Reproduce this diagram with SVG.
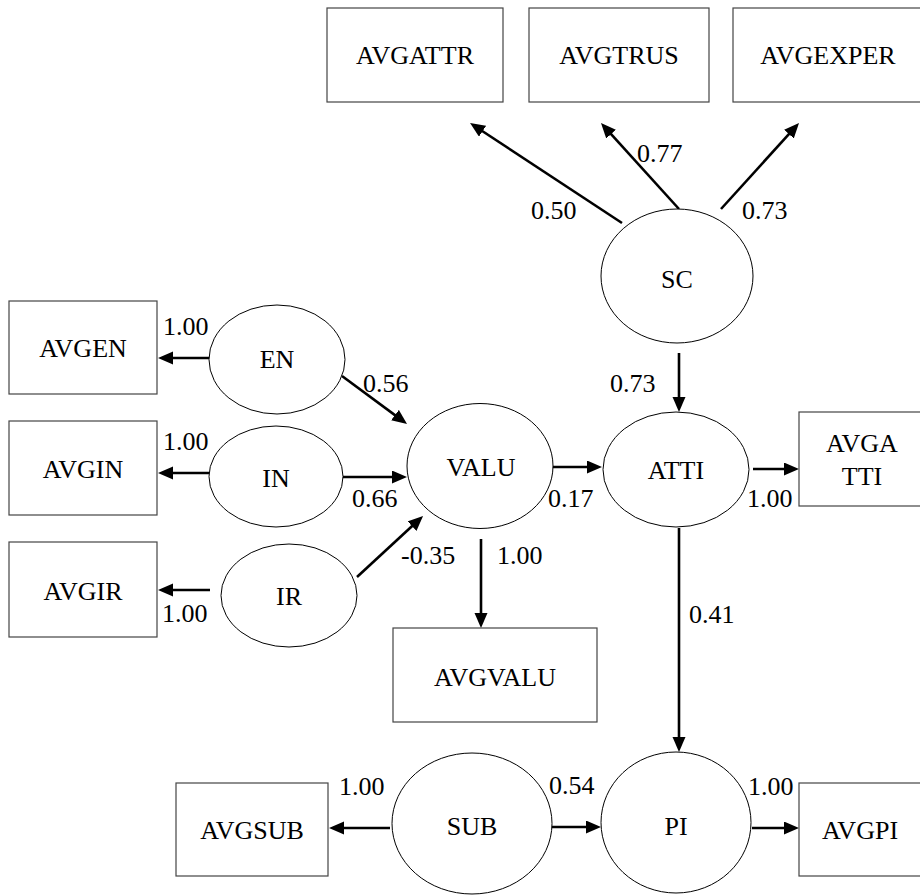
<svg xmlns="http://www.w3.org/2000/svg" width="920" height="895" viewBox="0 0 920 895" font-family="Liberation Serif, DejaVu Serif, serif" font-size="26">
<style>
.n text{text-anchor:middle}
.n rect{fill:#fff;stroke:#444;stroke-width:1.2}
.n ellipse{fill:#fff;stroke:#000;stroke-width:1}
#edges line{stroke:#000;stroke-width:2.6;marker-end:url(#ah)}
</style>
<defs>
<marker id="ah" markerUnits="userSpaceOnUse" markerWidth="16" markerHeight="14" refX="5" refY="6.5" orient="auto" viewBox="0 0 16 14">
<path d="M0,0 L15,6.5 L0,13 z" fill="#000"/>
</marker>
</defs>
<rect width="920" height="895" fill="#fff"/>
<g id="edges">
<line x1="622" y1="223" x2="478.4" y2="128.5"/>
<line x1="679" y1="209" x2="607.7" y2="130.4"/>
<line x1="721" y1="209" x2="792.3" y2="130.4"/>
<line x1="679" y1="353" x2="679" y2="402"/>
<line x1="753" y1="469" x2="789" y2="469"/>
<line x1="552" y1="467" x2="592" y2="467"/>
<line x1="679" y1="528" x2="679" y2="742"/>
<line x1="210" y1="358" x2="168" y2="358"/>
<line x1="209" y1="473" x2="168" y2="473"/>
<line x1="210" y1="590" x2="168" y2="590"/>
<line x1="342" y1="376" x2="399" y2="418.1"/>
<line x1="343" y1="477" x2="397" y2="477"/>
<line x1="357" y1="577" x2="415.7" y2="522.8"/>
<line x1="481" y1="539" x2="481" y2="618"/>
<line x1="390" y1="828" x2="339" y2="828"/>
<line x1="548" y1="827" x2="591" y2="827"/>
<line x1="752" y1="828" x2="789" y2="828"/>
</g>
<g id="labels">
<text x="531" y="219">0.50</text>
<text x="637" y="162">0.77</text>
<text x="742" y="219">0.73</text>
<text x="610" y="392">0.73</text>
<text x="747" y="507">1.00</text>
<text x="548" y="507">0.17</text>
<text x="689" y="623">0.41</text>
<text x="163" y="335">1.00</text>
<text x="163" y="450">1.00</text>
<text x="162" y="622">1.00</text>
<text x="363" y="392">0.56</text>
<text x="352" y="507">0.66</text>
<text x="401" y="564">-0.35</text>
<text x="497" y="564">1.00</text>
<text x="339" y="795">1.00</text>
<text x="549" y="794">0.54</text>
<text x="748" y="795">1.00</text>
</g>
<g class="n" id="AVGATTR"><rect x="327" y="8" width="176" height="94"/><text x="415" y="64">AVGATTR</text></g>
<g class="n" id="AVGTRUS"><rect x="529" y="8" width="180" height="94"/><text x="619" y="64">AVGTRUS</text></g>
<g class="n" id="AVGEXPER"><rect x="733" y="8" width="190" height="94"/><text x="828" y="64">AVGEXPER</text></g>
<g class="n" id="SC"><ellipse cx="677" cy="276" rx="76" ry="67"/><text x="677" y="288">SC</text></g>
<g class="n" id="ATTI"><ellipse cx="676" cy="469.5" rx="73" ry="57.5"/><text x="676" y="479">ATTI</text></g>
<g class="n" id="AVGATTI"><rect x="799" y="412" width="124" height="94"/><text x="862" y="452">AVGA</text><text x="862" y="485">TTI</text></g>
<g class="n" id="VALU"><ellipse cx="480" cy="466" rx="73" ry="62.5"/><text x="481" y="476">VALU</text></g>
<g class="n" id="EN"><ellipse cx="277" cy="359.5" rx="68" ry="54.5"/><text x="277" y="368">EN</text></g>
<g class="n" id="IN"><ellipse cx="276" cy="476.5" rx="67" ry="50.5"/><text x="276" y="487">IN</text></g>
<g class="n" id="IR"><ellipse cx="289" cy="595.5" rx="68" ry="51.5"/><text x="289" y="605">IR</text></g>
<g class="n" id="AVGEN"><rect x="9" y="301" width="148" height="93"/><text x="83" y="357">AVGEN</text></g>
<g class="n" id="AVGIN"><rect x="9" y="421" width="148" height="94"/><text x="83" y="478">AVGIN</text></g>
<g class="n" id="AVGIR"><rect x="9" y="542" width="148" height="95"/><text x="83" y="600">AVGIR</text></g>
<g class="n" id="AVGVALU"><rect x="393" y="628" width="204" height="94"/><text x="495" y="686">AVGVALU</text></g>
<g class="n" id="SUB"><ellipse cx="472" cy="823.5" rx="80" ry="70.5"/><text x="472" y="835">SUB</text></g>
<g class="n" id="PI"><ellipse cx="676" cy="822.5" rx="75" ry="70.5"/><text x="676" y="835">PI</text></g>
<g class="n" id="AVGSUB"><rect x="176" y="783" width="152" height="93"/><text x="252" y="839">AVGSUB</text></g>
<g class="n" id="AVGPI"><rect x="799" y="783" width="124" height="93"/><text x="860" y="839">AVGPI</text></g>
</svg>
